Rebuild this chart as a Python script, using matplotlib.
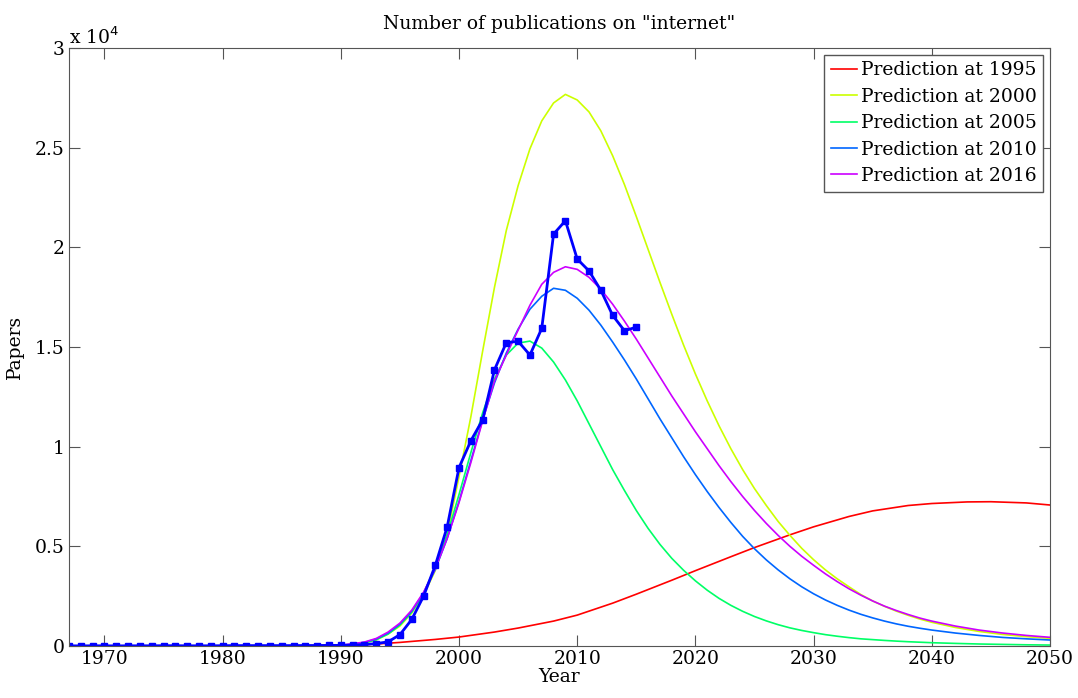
import matplotlib

matplotlib.use("Agg")
import matplotlib.pyplot as plt
import numpy as np

# observed publications per year
obs_years = list(range(1967, 2016))
obs_papers = [10, 5, 10, 10, 5, 10, 10, 10, 15, 15, 10, 10, 10, 15, 20, 20, 20, 20, 20, 20,
              25, 25, 30, 30, 40, 70, 120, 210, 570, 1330, 2500, 4060, 5980, 8950, 10300,
              11350, 13860, 15220, 15290, 14600, 15940, 20670, 21340, 19420, 18820, 17850,
              16590, 15820, 16000]

# fitted predictions
red_years = [1967, 1985, 1990, 1993, 1995, 1998, 2000, 2003, 2005, 2008, 2010, 2013, 2015,
             2018, 2020, 2023, 2025, 2028, 2030, 2033, 2035, 2038, 2040, 2043, 2045, 2048, 2050]
red_vals = [0, 0, 20, 100, 180, 330, 450, 700, 900, 1250, 1550, 2150, 2600, 3300, 3780, 4480,
            4940, 5580, 5980, 6500, 6780, 7050, 7150, 7230, 7240, 7180, 7075]

fit_years = [1967, 1985, 1988, 1990, 1991, 1992, 1993, 1994, 1995, 1996, 1997, 1998, 1999,
             2000, 2001, 2002, 2003, 2004, 2005, 2006, 2007, 2008, 2009, 2010, 2011, 2012,
             2013, 2014, 2015, 2016, 2017, 2018, 2019, 2020, 2021, 2022, 2023, 2024, 2025,
             2026, 2027, 2028, 2029, 2030, 2031, 2032, 2033, 2034, 2035, 2036, 2037, 2038,
             2039, 2040, 2042, 2044, 2046, 2048, 2050]
yellow_vals = [0, 0, 5, 30, 80, 150, 300, 600, 1000, 1650, 2550, 3800, 5600,
               8500, 11500, 14800, 18000, 20850, 23100, 24950, 26350, 27250, 27680, 27400,
               26800, 25850, 24600, 23150, 21550, 19900, 18250, 16650, 15100, 13650, 12300,
               11050, 9900, 8850, 7900, 7050, 6250, 5550, 4900, 4330, 3820, 3370, 2970,
               2580, 2260, 1990, 1750, 1540, 1350, 1190, 930, 730, 580, 470, 385]
green_vals = [0, 0, 5, 30, 80, 160, 320, 600, 1050, 1700, 2650, 3950, 5600,
              7600, 9700, 11700, 13400, 14600, 15200, 15300, 14950, 14250, 13350, 12300,
              11150, 10000, 8850, 7800, 6800, 5900, 5100, 4400, 3800, 3270, 2800, 2390,
              2040, 1740, 1480, 1260, 1070, 910, 780, 670, 570, 490, 420, 360, 320, 280,
              245, 215, 190, 165, 130, 100, 80, 60, 48]
blue_vals = [0, 0, 8, 40, 100, 180, 350, 650, 1100, 1750, 2650, 3850, 5400,
             7250, 9300, 11350, 13200, 14700, 15900, 16900, 17550, 17950, 17850, 17450,
             16850, 16100, 15250, 14350, 13400, 12400, 11400, 10450, 9500, 8600, 7750,
             6950, 6200, 5500, 4880, 4320, 3820, 3370, 2970, 2620, 2310, 2040, 1800, 1590,
             1410, 1250, 1110, 990, 890, 800, 650, 530, 430, 360, 300]
magenta_vals = [0, 0, 10, 50, 110, 200, 380, 700, 1150, 1800, 2700, 3900, 5400,
                7200, 9200, 11300, 13300, 14600, 15850, 17100, 18150, 18750, 19030, 18900,
                18500, 17900, 17150, 16300, 15400, 14450, 13500, 12550, 11650, 10750, 9900,
                9050, 8250, 7500, 6800, 6150, 5550, 5000, 4500, 4050, 3620, 3230, 2870,
                2550, 2260, 2000, 1780, 1580, 1400, 1250, 1000, 800, 650, 530, 435]

series = [
    ("Prediction at 1995", red_years, red_vals, "#FF0000"),
    ("Prediction at 2000", fit_years, yellow_vals, "#CCFF00"),
    ("Prediction at 2005", fit_years, green_vals, "#00FF66"),
    ("Prediction at 2010", fit_years, blue_vals, "#0066FF"),
    ("Prediction at 2016", fit_years, magenta_vals, "#CC00FF"),
]

plt.rcParams["font.family"] = ["DejaVu Serif"]
plt.rcParams["font.size"] = 13.5

fig = plt.figure(figsize=(10.78, 6.98), dpi=100)
ax = fig.add_axes([0.064, 0.0745, 0.910, 0.8565])

for name, yrs, vals, col in series:
    ax.plot(yrs, np.array(vals) / 1e4, color=col, lw=1.2, label=name)
ax.plot(obs_years, np.array(obs_papers) / 1e4, color="#0000FF", lw=2, marker="s",
        ms=5, mfc="#0000FF", mec="#0000FF")

ax.set_xlim(1967, 2050)
ax.set_ylim(0, 3)
ax.set_xticks(range(1970, 2051, 10))
ax.set_yticks([0, 0.5, 1, 1.5, 2, 2.5, 3])
ax.set_yticklabels(["0", "0.5", "1", "1.5", "2", "2.5", "3"])
ax.tick_params(direction="in", length=8, top=True, right=True, color="#555555", pad=3)
for s in ax.spines.values():
    s.set_color("#555555")
ax.text(0.0, 1.0, r"x 10$^{4}$", transform=ax.transAxes, ha="left", va="bottom")
ax.set_title('Number of publications on "internet"', fontsize=13.5, pad=14)
ax.set_xlabel("Year", labelpad=0)
ax.set_ylabel("Papers", labelpad=8)
ax.legend(loc="upper right", fancybox=False, edgecolor="#555555", framealpha=1,
          handlelength=1.4, handletextpad=0.2, borderpad=0.35, labelspacing=0.45,
          borderaxespad=0.35)

fig.savefig("out.png", dpi=100)
